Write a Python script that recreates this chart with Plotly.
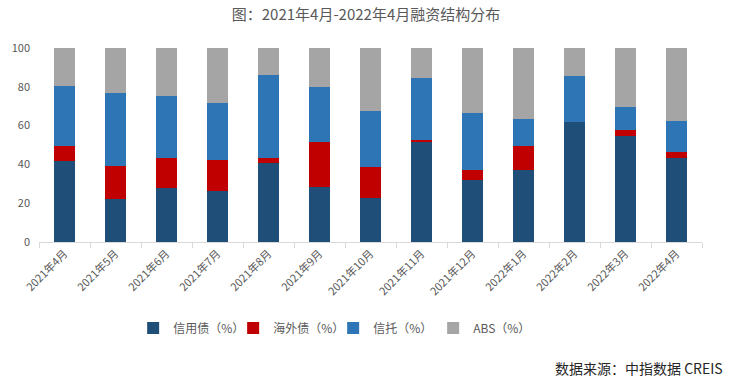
import plotly.graph_objects as go

months = ["2021年4月", "2021年5月", "2021年6月", "2021年7月", "2021年8月", "2021年9月",
          "2021年10月", "2021年11月", "2021年12月", "2022年1月", "2022年2月", "2022年3月", "2022年4月"]
credit_bond = [41.5, 22.3, 28.0, 26.4, 40.9, 28.5, 22.8, 51.6, 32.1, 37.3, 61.7, 54.4, 43.5]
overseas_bond = [8.2, 17.1, 15.5, 16.1, 2.6, 23.3, 16.1, 1.2, 5.2, 12.4, 0.0, 3.3, 3.1]
trust = [30.6, 37.3, 31.6, 29.0, 42.5, 28.0, 28.5, 31.7, 29.0, 13.5, 23.8, 11.7, 15.6]
abs_share = [19.7, 23.3, 24.9, 28.5, 14.0, 20.2, 32.6, 15.5, 33.7, 36.8, 14.5, 30.6, 37.8]

series = [
    ("信用债（%）", credit_bond, "#1F4E79"),
    ("海外债（%）", overseas_bond, "#C00000"),
    ("信托（%）", trust, "#2E75B6"),
    ("ABS（%）", abs_share, "#A5A5A5"),
]

font_family = "Noto Sans CJK SC, Noto Sans, sans-serif"
fig = go.Figure()
for name, vals, color in series:
    fig.add_trace(go.Bar(x=months, y=vals, name=name, marker=dict(color=color, line=dict(width=0)),
                         width=0.41))

fig.update_layout(
    barmode="stack",
    width=732, height=388,
    margin=dict(l=39, r=30, t=48, b=146, autoexpand=False),
    paper_bgcolor="white", plot_bgcolor="white",
    font=dict(family=font_family, color="#595959", size=11),
    title=dict(text="图：2021年4月-2022年4月融资结构分布", x=0.5, xanchor="center", y=0.961, yanchor="middle",
               font=dict(size=15, color="#595959", family=font_family)),
    legend=dict(orientation="h", x=0.142, xanchor="left", y=-0.443, yanchor="middle",
                font=dict(size=12, color="#595959"), itemwidth=30, traceorder="normal",
                entrywidth=55, entrywidthmode="pixels", tracegroupgap=0),
    bargap=0.59,
    showlegend=True,
)
fig.update_xaxes(
    automargin=False,
    showline=True, linecolor="#D9D9D9", linewidth=1,
    ticks="outside", tickson="boundaries", ticklen=5, tickcolor="#D9D9D9",
    tickangle=-45, tickfont=dict(size=11, color="#595959"), showgrid=False,
)
fig.update_yaxes(
    automargin=False,
    range=[0, 100], dtick=20, showgrid=False, showline=False, zeroline=False,
    tickfont=dict(size=11, color="#595959"), ticks="", ticklabelstandoff=8,
)
fig.add_annotation(text="数据来源：中指数据 CREIS", xref="paper", yref="paper",
                   x=1.035, xanchor="right", y=-0.649, yanchor="middle", showarrow=False,
                   font=dict(size=14, color="#262626", family=font_family))

fig.write_html("out.html", config={"displayModeBar": False},
               post_script="document.body.style.margin='0';document.body.style.overflow='hidden';")
